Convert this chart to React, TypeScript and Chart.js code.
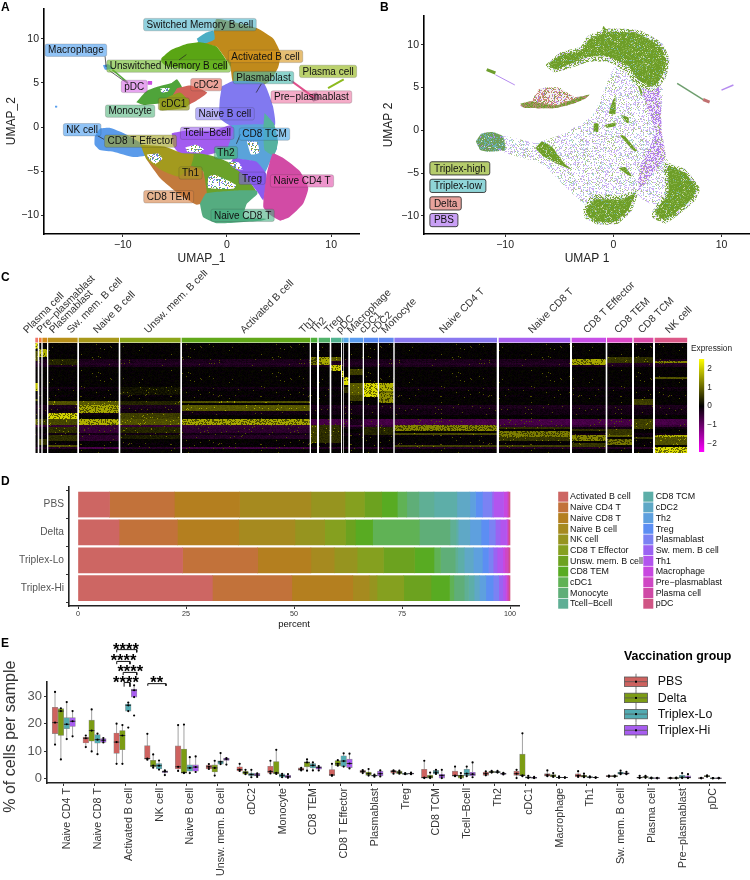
import React, { useEffect, useRef } from "react";
import { Chart, registerables } from "chart.js";
Chart.register(...registerables);

const FONT = '"Liberation Sans", Arial, sans-serif';
type Pt = [number, number];

/* ---------- Panel A ---------- */
const clusterA: { c: string; p: Pt[] }[] = [
  { c: "#C08A1B", p: [[-2.9,9.5],[-1.3,10.7],[-1.05,12.2],[0.6,11.9],[2.85,11.2],[4.45,10],[5.15,8.3],[4.9,6.7],[4.1,5.2],[2.85,4.4],[0.6,5],[0.3,6.9],[-1,9.1]] },
  { c: "#4BAEC4", p: [[-2.9,10],[-2,10.7],[-1.3,10.9],[-1.2,9.9],[-2.6,9.3]] },
  { c: "#5AA514", p: [[-6.3,7.8],[-5.4,8.7],[-3.9,9.4],[-2.6,9.6],[-1,9.1],[0,7.4],[0,6.5],[-3,6.5],[-5.8,6.9],[-6.3,7.4]] },
  { c: "#4FA43A", p: [[-8.7,2.8],[-7.7,4.1],[-6.6,4.6],[-5.3,5],[-4.8,5.4],[-4.3,4.4],[-5.4,3.2],[-6.4,2.7],[-8,2.5]] },
  { c: "#D0635A", p: [[-4.8,4.4],[-3.5,4.7],[-1.9,3.9],[-2.9,3],[-3.9,2.4],[-6.4,2],[-6.4,2.7],[-5.4,3.3]] },
  { c: "#8E9E1E", p: [[-6.4,3],[-4.5,3.9],[-3.6,2.8],[-3.9,2.2],[-6.4,1.9]] },
  { c: "#8179F0", p: [[-0.5,4.6],[0.6,5.2],[3.5,5],[4.4,2.4],[4.6,0.2],[2.5,0],[0.6,0],[-0.7,1],[-0.7,3]] },
  { c: "#5AA3DA", p: [[0.3,0.2],[4,0.2],[4.8,-2.4],[4.3,-3.5],[3.5,-5.4],[2.5,-3.9],[0.6,-3.5],[0,-2.4]] },
  { c: "#55B2A0", p: [[3.6,1.6],[4.5,0.4],[4.9,-1.7],[4.5,-3.2],[3.6,-2.6],[3.5,0]] },
  { c: "#A35CF0", p: [[-5.3,-0.7],[-3.9,-0.4],[-1.3,-0.4],[0.3,0.2],[0.6,-0.2],[0,-2.4],[-2,-3.2],[-4.5,-3.1],[-5.2,-2]] },
  { c: "#5B9BEA", p: [[-12.7,-1.1],[-12.2,-0.2],[-11.2,-0.1],[-9.9,-0.7],[-8.3,-1.8],[-7.4,-3.1],[-9,-3.4],[-10.9,-2.8],[-12.2,-2.6],[-12.7,-2]] },
  { c: "#6AA22A", p: [[-4.5,-3],[-2.6,-3],[-1,-3.4],[1.2,-4.6],[1.7,-5.4],[2.8,-7.4],[-2.3,-7.6],[-2.3,-5],[-3.6,-4.6]] },
  { c: "#C27A3C", p: [[-7.7,-3.7],[-6.1,-4.9],[-4.5,-5.3],[-3.5,-4.4],[-2.3,-5],[-1.9,-8.3],[-2.9,-8.8],[-4.5,-7.7],[-6.4,-5.8]] },
  { c: "#A39A1E", p: [[-8.3,-2],[-6,-2.2],[-4.2,-3],[-3.2,-3.1],[-3.5,-4.5],[-4.6,-5.6],[-6.1,-5],[-7.7,-3.7]] },
  { c: "#55AC80", p: [[-2.6,-8.7],[-2,-7.5],[0.6,-7.2],[2.9,-7.2],[2.9,-7.6],[1.9,-8.7],[1.6,-10.2],[3.8,-10.4],[3.2,-10.6],[-1,-10.9],[-2.3,-10.2]] },
  { c: "#8B5CF0", p: [[0.6,-3.5],[2.8,-3.9],[3.8,-5.4],[3.5,-8.3],[2.9,-7.3],[1.6,-5.4],[0.3,-4.3]] },
  { c: "#D24BA5", p: [[3.5,-8.3],[3.8,-5.4],[4.4,-3],[5.4,-3.5],[7,-5],[7.8,-6.9],[7.3,-8.7],[6,-10.2],[5.1,-10.6],[4.2,-10],[3.5,-9.1]] },
  { c: "#55AE90", p: [[-1.2,-2.4],[0.6,-2.4],[0.8,-3.6],[-0.8,-3.6]] },
  { c: "#7D8D95", p: [[7.8,3.6],[8.6,3.9],[9,3.2],[8.3,2.9]] },
  { c: "#5AA0EE", p: [[-11.9,7],[-11.4,7.1],[-10.9,6.6],[-11.7,6.5]] },
  { c: "#C94FE0", p: [[-7.6,5.2],[-7.2,5.2],[-7.2,4.8],[-7.6,4.8]] },
  { c: "#5AA0EE", p: [[-16.5,2.4],[-16.3,2.4],[-16.3,2.2],[-16.5,2.2]] },
];
const holesA: Pt[][] = [
  [[-7.7,-3.1],[-6.6,-3],[-6.2,-3.6],[-6.9,-4.2],[-7.5,-3.6]],
  [[-1.8,-5.6],[-1.2,-5.4],[0,-6],[0.9,-6.6],[0.6,-7],[-1.8,-6.9]],
  [[-4,-2.3],[-3,-2],[-2.2,-2.5],[-2.6,-2.9],[-3.8,-2.8]],
  [[1.9,-1.6],[2.9,-1.7],[3.1,-2.9],[2.3,-3.1]],
  [[0.1,-3.9],[1.1,-4],[1.5,-4.8],[0.6,-4.6]],
  [[-6.4,4.4],[-5.5,4.4],[-5.7,4],[-6.3,3.9]],
];
const strokesA: { c: string; w: number; p: Pt[] }[] = [
  { c: "#8DBA1E", w: 2, p: [[9.7,4.4],[11.2,5.4]] },
  { c: "#E0508C", w: 2, p: [[6.2,5.2],[8.4,3.3]] },
  { c: "#56A83B", w: 1.5, p: [[-11,6.5],[-9.5,5]] },
];
const labelNamesA = ["Switched Memory B cell","Macrophage","Unswitched Memory B cell","Activated B cell","Plasma cell","Plasmablast","cDC2","pDC","Pre\u2212plasmablast","cDC1","Monocyte","Naive B cell","NK cell","Tcell\u2212Bcell","CD8 TCM","CD8 T Effector","Th2","Th1","Treg","Naive CD4 T","CD8 TEM","Naive CD8 T"];
const labelXA = [-2.6,-14.5,-5.6,3.7,9.7,3.5,-2,-8.9,8.1,-5.1,-9.3,-0.2,-13.9,-1.9,3.6,-8.3,-0.1,-3.5,2.4,7.2,-5.6,1.5];
const labelYA = [11.6,8.7,6.9,8,6.3,5.6,4.8,4.6,3.4,2.6,1.8,1.5,-0.3,-0.7,-0.8,-1.6,-2.9,-5.2,-5.8,-6.1,-7.9,-10];
const labelColorsA = ["rgba(72,178,200,.6)","rgba(70,155,240,.6)","rgba(110,185,40,.62)","rgba(215,150,30,.62)","rgba(150,185,30,.65)","rgba(70,185,175,.62)","rgba(225,105,90,.62)","rgba(210,90,225,.55)","rgba(235,90,145,.5)","rgba(150,155,30,.7)","rgba(70,175,115,.55)","rgba(125,115,240,.55)","rgba(70,155,240,.6)","rgba(150,90,235,.55)","rgba(70,165,230,.6)","rgba(160,160,30,.6)","rgba(70,175,130,.6)","rgba(160,150,30,.6)","rgba(130,90,235,.6)","rgba(225,80,170,.6)","rgba(215,130,70,.6)","rgba(70,175,130,.6)"];
const connectorsA: Pt[][] = [
  [[-11.7,8],[-11.6,6.8]],
  [[-11.3,6.4],[-9.5,4.9]],
  [[-12.4,-1],[-11.8,-1.4]],
  [[-4.6,7.6],[-3.9,8.2]],
  [[3.3,4.9],[2.8,3.9]],
  [[1.3,-0.8],[0.9,-1.9]],
];
const xTicksA = [-10, 0, 10];
const yTicksUmap = [-10, -5, 0, 5, 10];

/* ---------- Panel B ---------- */
const sparseB: Pt[] = [[-7.2,-1.5],[-4.8,-0.5],[-2,1.6],[-1.1,3.9],[0.2,7.4],[4.5,5.9],[4.3,-0.3],[5.1,-3.9],[4.2,-8.9],[2.6,-8],[2,-7.4],[-2.3,-8.9],[-4.5,-6.5],[-6.6,-3.9],[-10.2,-2.5],[-10.2,-0.7]];
const bandB: Pt[] = [[2.6,5.9],[4.2,5.1],[4.5,-0.3],[4.8,-3.1],[3.2,-5.8],[2.3,-7],[2.5,-4.2],[3.9,-0.3],[2.9,3.5]];
const haloB: Pt[][] = [
  [[-6.3,7.6],[-4.9,9.1],[-3,9.8],[-2.4,11],[-0.5,11.9],[2.4,11.7],[4.5,10.2],[5.2,8.2],[4.8,6],[3.7,4.6],[2.2,5.2],[1,7],[-0.5,8],[-2.3,8],[-3.9,7.3],[-5.5,6.8]],
  [[3.6,-9.5],[4.8,-7],[4.7,-3.8],[6.7,-4.6],[8,-6.8],[7.5,-8.3],[5.9,-10],[4.8,-10.9],[3.6,-10.2]],
  [[-2.8,-9.3],[-2,-7.6],[0.8,-7.6],[2.3,-7],[1.7,-9.4],[0.3,-11],[-1.5,-11],[-2.6,-10.3]],
];
const denseB: Pt[][] = [
  [[-6,7.8],[-4.8,8.8],[-2.9,9.4],[-2.3,10.6],[-0.5,11.5],[2.3,11.3],[4.2,9.9],[4.9,8.2],[4.5,6.3],[3.6,5.1],[2.3,5.9],[1.4,7.5],[-0.5,8.6],[-2.3,8.6],[-3.9,7.8],[-5.4,7.1]],
  [[4.2,-8.9],[5.1,-7.4],[5.1,-4.2],[6.6,-5],[7.7,-6.8],[7.2,-8.1],[5.7,-9.7],[4.8,-10.5],[3.9,-9.7]],
  [[-2.5,-9.3],[-1.7,-8.1],[0.8,-8.1],[2,-7.4],[1.4,-9.3],[0.2,-10.7],[-1.4,-10.7],[-2.3,-10.1]],
  [[-7.2,-2.1],[-6.6,-1.3],[-5.7,-1.9],[-4.5,-3.9],[-3.8,-4.6],[-5.2,-3.9],[-6.5,-3]],
  [[-1,11.9],[-0.9,12.2],[-0.5,11.5],[-0.9,11.4]],
  [[-0.8,0.6],[0.2,0.9],[0.2,0.5],[-0.6,0.3]],
  [[0.8,1.8],[1.4,1.5],[1.4,0.8],[0.9,1.3]],
  [[0.2,3.9],[0.2,1.9],[-0.4,2],[0,3.6]],
  [[2.3,5.1],[2.6,4],[2.7,4.4],[2.4,5.2]],
  [[-1.8,0.8],[-1.4,0.8],[-1.4,-0.2],[-1.8,-0.1]],
  [[0.6,-0.6],[1,-0.6],[2.2,-2.4],[1.9,-2.4]],
  [[0.5,-4.4],[1.1,-4.3],[1.7,-5.4],[1.3,-5.2]],
];
const tealB: Pt[] = [[-12.7,-1.3],[-12.2,-0.4],[-11.2,-0.2],[-10.2,-0.7],[-10,-2.3],[-11.6,-2.5],[-12.3,-2.3]];
const redB: Pt[] = [[-7.6,3.3],[-7.2,4.2],[-6.8,4.9],[-5,5],[-3.6,3.9],[-2.2,4.1],[-3.5,3.2],[-5.3,2.6],[-8.3,2.6],[-8.6,3]];
const greenEdgeB: Pt[] = [[-8.6,3.1],[-7.6,3.4],[-5.3,2.9],[-3.6,3.7],[-2.2,4.2],[-2.6,3.7],[-3.8,3.1],[-5.3,2.6],[-8.2,2.6]];
const strokesB: { c: string; w: number; p: Pt[] }[] = [
  { c: "#6E9E2E", w: 3, p: [[-11.7,7.1],[-10.9,6.7]] },
  { c: "#B58BEF", w: 1, p: [[-10.9,6.5],[-9.1,5.3]] },
  { c: "#6E9E6E", w: 1.5, p: [[5.9,5.5],[8.3,3.6]] },
  { c: "#C07070", w: 3, p: [[8.3,3.6],[8.9,3.3]] },
  { c: "#B58BEF", w: 1.5, p: [[10,4.7],[11.1,5.3]] },
];
const legendNamesB = ["Triplex-high", "Triplex-low", "Delta", "PBS"];
const legendYB = [-4.45, -6.5, -8.55, -10.5];
const legendFillsB = ["#B5CC6C", "#8FD5D8", "#E8A29C", "#C9A0F5"];
const xTicksB = [-10, 0, 10];

/* ---------- Panel C ---------- */
const heatNames = ["Plasma cell","Pre\u2212plasmablast","Plasmablast","Sw. mem. B cell","Naive B cell","Unsw. mem. B cell","Activated B cell","Th1","Th2","Treg","pDC","Macrophage","cDC1","cDC2","Monocyte","Naive CD4 T","Naive CD8 T","CD8 T Effector","CD8 TEM","CD8 TCM","NK cell"];
const heatLabelX = [28,41.6,54,71.7,98,149,245,304,315,329,340.7,351.7,364,375,386,444,533,588,619,642.7,670];
const heatStart = [35.3,39.3,42.7,48.3,79,120.3,182,311,319,331.3,342,344,350,364,379,394.7,499,572,607.3,634,655];
const heatEnd = [37.7,41.3,47,77.3,118.7,180.3,309.7,317,329.7,341,343.3,348.3,362.7,377.7,393.3,496.7,570,605.7,632,653,687.3];
const heatStrip = ["#F0786C","#EA8040","#D28A1A","#B8901A","#A8981A","#8CA51A","#62A81A","#4FB03A","#52B26A","#52B490","#5CB4C8","#5AA8E8","#5A9CF0","#5A8CF4","#6088F0","#8A78F0","#A860F0","#C850E8","#DC48C8","#DC4CA8","#DC5888"];
const heatBase = [0,0,0,0,0,0,0,0,-.3,-.3,-.4,-.3,0,0,0,0,0,0,0,0,0,0,-.2,-.1,0,0,-.1,0,0,0,0,-.3,-.3,-.2,-.2,-.2,0,0,-.8,-.8,-.8,-.6,-.2,0,0,-.2,-.1,0,0,0,-.1,0,-.4,0,0];
const heatBands: [number, number, number][][] = [
  [[0,2,2.5],[4,8,.9],[20,23,2.2],[28,28,1],[38,40,1.1]],
  [[3,6,2],[48,50,.8],[38,40,.6]],
  [[3,6,2],[48,50,.5],[38,40,.5]],
  [[8,10,.4],[29,30,.9],[35,37,2.4],[38,40,.8],[42,44,.5],[46,48,.5],[51,51,.9]],
  [[29,30,1],[31,34,1.9],[38,40,2],[42,44,-.6],[46,48,-.5],[52,52,-.8]],
  [[29,30,.4],[35,37,.7],[38,40,.9],[42,44,.4],[46,47,.3],[22,25,.2]],
  [[29,29,.9],[31,33,1],[38,40,1.9],[42,44,-.5],[46,47,-.4],[52,52,-.7]],
  [[7,10,1.3],[38,40,-.8],[41,49,.7]],
  [[7,10,1.9],[41,49,.5]],
  [[7,8,1],[11,13,2.3],[41,49,.5]],
  [[14,16,2.5]],
  [[17,20,2.5],[22,24,.5]],
  [[13,15,.7],[20,25,1],[26,28,.7],[38,40,-.3]],
  [[20,26,2.5],[42,45,.4]],
  [[20,23,2],[24,24,1.2],[25,29,1.6],[42,45,.4]],
  [[41,43,1.5],[45,45,.8],[51,51,.7]],
  [[42,42,.5],[44,46,1.4],[47,48,.6],[51,51,.7]],
  [[8,10,1.9],[43,43,.5],[46,48,1.5],[50,51,.6]],
  [[7,9,.6],[43,45,.6],[46,46,1],[48,50,1.3]],
  [[7,9,.5],[28,30,.7],[38,42,.7],[47,47,.5]],
  [[9,9,1.5],[17,17,.9],[46,46,2],[47,50,.9],[52,54,2.5]],
];
const colorbarTicks = [-2, -1, 0, 1, 2];
const colorbarRange: [number, number] = [-2.47, 2.54];

/* ---------- Panel D ---------- */
const cellTypes = ["Activated B cell","Naive CD4 T","Naive CD8 T","Naive B cell","NK cell","CD8 T Effector","Unsw. mem. B cell","CD8 TEM","cDC1","Monocyte","Tcell\u2212Bcell","CD8 TCM","cDC2","Th2","Treg","Plasmablast","Sw. mem. B cell","Th1","Macrophage","Pre\u2212plasmablast","Plasma cell","pDC"];
const cellColors = ["#CD6663","#C2723A","#B47F1F","#A68A1F","#96941F","#85A01F","#6CA21F","#58AB22","#60B255","#5FAE78","#5FAF95","#5DAEA8","#5FA8C6","#5EA0DE","#5C8EF3","#7B82F3","#9B63F2","#B255EE","#C848E0","#CF47C4","#CF49A6","#D05585"];
const compGroups = ["PBS", "Delta", "Triplex-Lo", "Triplex-Hi"];
const compPBS = [7.3,15,15.1,16.5,7.9,4.5,4,3.6,2.2,2.8,3.5,5.3,3,1.3,1.6,2.2,.4,2.3,.8,.2,.2,.3];
const compDelta = [9.5,13.5,14.2,13,6.9,4.8,2.3,4,10.8,7.1,1.4,.5,2.7,2.6,1.8,1.5,1.1,1.5,.2,.1,.2,.3];
const compLo = [24.2,17.4,12.3,5.4,5.3,6.1,7.2,4.5,1.5,3.4,.6,1.5,2.1,2.1,1.4,1.1,.9,1.3,.5,.6,.3,.3];
const compHi = [31.1,18.4,14.1,3.8,1.8,6.2,6.3,4.3,1,2.4,1,1.3,1.2,1.5,1.7,1.3,.9,.6,.3,.3,.2,.3];
const percentTicks = [0, 25, 50, 75, 100];

/* ---------- Panel E ---------- */
const boxCats = ["Naive CD4 T","Naive CD8 T","Activated B cell","NK cell","Naive B cell","Unsw. mem. B cell","cDC2","Monocyte","CD8 TEM","CD8 T Effector","Plasmablast","Treg","CD8 TCM","Tcell\u2212Bcell","Th2","cDC1","Macrophage","Th1","Sw. mem. B cell","Plasma cell","Pre\u2212plasmablast","pDC"];
const groupNames = ["PBS", "Delta", "Triplex-Lo", "Triplex-Hi"];
const groupColors = ["#CE625F", "#7C9C14", "#52ABB2", "#A85DF0"];
const q1PBS = [16.4,13,9.2,7.1,3.5,3.5,2.8,2,3,1.2,2.2,2,.2,.9,1.2,1.2,.9,.6,.7,.2,.1,.1];
const medPBS = [20.4,14.7,13.3,7.3,4.3,4.3,3.3,2.6,3.4,1.3,2.6,2.6,.4,1.1,1.8,1.8,1.3,1.1,.9,.4,.2,.2];
const q3PBS = [26,15.1,16.6,12,11.9,4.9,4.3,4.5,3.9,3.3,3,3,3.4,2.7,2.4,2.7,1.8,1.7,1.1,.6,.3,.3];
const loPBS = [12.4,11.5,5.4,6.9,2.8,3.5,2.8,1.9,3,1,2,1.8,.2,.9,1.2,.2,.9,.6,.7,.2,.1,.1];
const hiPBS = [31.6,15.7,20,16.3,19.5,5.3,5.4,6.5,3.9,5.4,3.1,3,6.5,4.4,2.6,3.2,3,2.7,1.1,1,.3,.3];
const q1Delta = [15.7,13.6,10.5,4.3,2,2.4,1.6,1.7,4.3,4.7,1.2,1.8,.2,.2,2.2,1.1,.6,.5,.7,.4,.1,.7];
const medDelta = [24.6,17.5,15.7,4.7,2.2,3.9,2.2,2.1,5.9,5.4,1.8,2.3,.6,1,2.4,1.2,1,.9,.9,.6,.2,.9];
const q3Delta = [25.5,21.3,17.5,6.7,10.8,5,2.7,6.2,6.1,6.6,2.4,2.7,1.2,1.3,2.7,8.9,1.5,1.2,1.1,.7,.3,1.1];
const loDelta = [7,9.9,5.4,4,2,1.1,1.6,1.7,2.9,4.7,1.1,1.8,.2,.2,2.2,.9,.6,.5,.7,.3,.1,.7];
const hiDelta = [25.6,25.2,19.5,8.8,19.7,6.5,3.2,10.5,7,6.7,3.5,2.9,2.2,2,2.8,16.5,2,1.8,1.1,1,.4,1.2];
const q1Lo = [18.2,12.9,24.6,3.5,2.7,5.3,1,.5,3.9,4.4,.9,1.6,1.7,1.1,2.2,.2,.3,.4,1.6,.1,.2,.1];
const medLo = [19.8,14.2,26.7,4.7,3.9,6.1,1.5,1.1,4.8,6.4,1.1,1.7,2.3,1.8,2.4,.4,.4,.5,2,.2,.5,.15];
const q3Lo = [22.2,16,27.2,5.5,5,6.5,2,1.7,5.5,8.3,1.3,1.9,3,3.4,2.6,.7,.6,.7,2.4,.3,1.2,.2];
const loLo = [14.4,8.9,24.6,3.3,2,5.3,.5,.5,3,4.4,.7,1.6,1.7,.9,2.2,.2,.3,.4,1.6,.1,.2,.1];
const hiLo = [27.9,16.4,27.7,6.6,7.8,9.3,3.2,1.7,5.9,9.2,1.5,2,3.2,4.4,2.8,1,.8,.8,2.9,.4,2,.2];
const q1Hi = [19,13.2,29.7,2.2,2.7,6.6,1,.3,3.4,4,1,1.7,.2,1,1.5,.2,.3,.3,1.6,.1,.2,.1];
const medHi = [20.9,14,32.2,2.6,4.2,7.1,1.3,.7,4,5.5,1.8,1.8,1.1,1.6,1.8,.3,.4,.4,1.9,.2,.4,.15];
const q3Hi = [22.2,14.6,32.6,2.8,5,7.5,1.9,1.2,4.4,7.1,2.7,2,1.6,2.3,2,.5,.5,.5,2.1,.3,1,.2];
const loHi = [15.4,13.2,29.7,1.3,2.4,5.1,.6,.3,3,3.7,.8,1.6,.2,.5,1.5,.2,.3,.3,1.6,.1,.2,.1];
const hiHi = [24.6,14.8,34,3,8.1,7.5,1.9,1.6,4.6,9.1,3,2.2,3.2,5.9,2.1,.6,.5,.5,2.5,.3,1.6,.3];
const outlierX = [2.095, 2.285];
const outlierY = [18.6, 23];
const bracketStarts = [1.72, 1.72, 1.93, 1.96, 2.73];
const bracketEnds = [2.37, 2.15, 2.37, 2.15, 3.32];
const bracketTops = [47, 42.7, 38.7, 35, 34.6];
const bracketTips = [46, 41.7, 37.7, 33.5, 33.8];
const starTexts = ["****", "****", "****", "****", "**"];
const starX = [2.02, 1.94, 2.16, 2.02, 3.02];
const starY = [48.2, 44.1, 40.2, 36.4, 36.4];
const boxTicksY = [0, 10, 20, 30];

/* ---------- helpers ---------- */
function lcg(seed: number) {
  let s = seed >>> 0;
  return () => { s = (Math.imul(s, 1664525) + 1013904223) >>> 0; return s / 4294967296; };
}
function speckle(base: string | null, dots: [string, number][], seed = 7, size = 60) {
  const c = document.createElement("canvas");
  c.width = size; c.height = size;
  const g = c.getContext("2d")!;
  if (base) { g.fillStyle = base; g.fillRect(0, 0, size, size); }
  const r = lcg(seed);
  for (let y = 0; y < size; y++) for (let x = 0; x < size; x++) {
    const v = r(); let acc = 0;
    for (const [col, d] of dots) {
      acc += d;
      if (v < acc) { g.fillStyle = col; g.fillRect(x, y, 1, 1); break; }
    }
  }
  return document.createElement("canvas").getContext("2d")!.createPattern(c, "repeat")!;
}
function exprColor(v: number) {
  const t = Math.min(1, Math.abs(v) / 2.5);
  const k = Math.round(255 * t);
  return v >= 0 ? `rgb(${k},${k},0)` : `rgb(${k},0,${k})`;
}
const heatTiles = new Map<number, CanvasPattern>();
function heatTile(v: number) {
  const key = Math.round(v * 10);
  if (heatTiles.has(key)) return heatTiles.get(key)!;
  const W = 90, H = 16;
  const c = document.createElement("canvas");
  c.width = W; c.height = H;
  const g = c.getContext("2d")!;
  const r = lcg(key * 131 + 977);
  const spike = 0.012 + 0.02 * Math.abs(v);
  for (let y = 0; y < H; y++) for (let x = 0; x < W; x++) {
    let val = v * 0.85 + (r() - 0.5) * 0.2;
    const q = r();
    if (v > 1 && q < 0.3) val = v * 0.4;
    else if (q < spike && v < 1.5) val = Math.max(val, 0) + 0.8;
    g.fillStyle = exprColor(val);
    g.fillRect(x, y, 1, 1);
  }
  const p = document.createElement("canvas").getContext("2d")!.createPattern(c, "repeat")!;
  heatTiles.set(key, p);
  return p;
}
type TextItem = { t: string; x: number; y: number; font: string; color?: string; align?: CanvasTextAlign; rot?: number };
const textLayer = (items: TextItem[]) => ({
  id: "textLayer",
  afterDraw(chart: any) {
    const ctx = chart.ctx;
    for (const it of items) {
      ctx.save();
      ctx.font = it.font; ctx.fillStyle = it.color || "#000";
      ctx.textAlign = it.align || "left"; ctx.textBaseline = "middle";
      ctx.translate(it.x, it.y);
      if (it.rot) ctx.rotate(it.rot);
      ctx.fillText(it.t, 0, 0);
      ctx.restore();
    }
  },
});
const umapLabels = (names: string[], xs: number[], ys: number[], fills: string[], opts: any = {}) => ({
  id: "umapLabels",
  afterDraw(chart: any) {
    const ctx = chart.ctx;
    const { x: sx, y: sy } = chart.scales;
    ctx.save();
    ctx.font = `${opts.size || 10}px ${FONT}`;
    ctx.textBaseline = "middle";
    names.forEach((n, i) => {
      const w = ctx.measureText(n).width + (opts.pad || 6);
      const h = opts.h || 12.4;
      const px = opts.left !== undefined ? sx.getPixelForValue(opts.left) : sx.getPixelForValue(xs[i]) - w / 2;
      const py = sy.getPixelForValue(ys[i]) - h / 2;
      ctx.beginPath();
      ctx.roundRect(px, py, w, h, 2);
      ctx.fillStyle = fills[i]; ctx.fill();
      ctx.lineWidth = opts.lw || 0.6; ctx.strokeStyle = opts.stroke || "rgba(60,60,60,.35)"; ctx.stroke();
      ctx.fillStyle = "#111"; ctx.textAlign = "left";
      ctx.fillText(n, px + (opts.pad || 6) / 2, py + h / 2 + 0.5);
    });
    ctx.restore();
  },
});
const gridLegend = () => ({
  id: "gridLegend",
  afterDraw(chart: any) {
    const ctx = chart.ctx;
    ctx.save();
    ctx.font = `8.9px ${FONT}`; ctx.textBaseline = "middle"; ctx.textAlign = "left";
    cellTypes.forEach((n, i) => {
      const col = i < 11 ? 0 : 1;
      const row = i < 11 ? i : i - 11;
      const sx = col ? 643.3 : 558.2;
      const sy = 496.7 - 470 + row * 10.7;
      ctx.fillStyle = cellColors[i];
      ctx.fillRect(sx, sy - 5, 10, 10);
      ctx.fillStyle = "#111";
      ctx.fillText(n, sx + (col ? 12.4 : 11.8), sy + 0.3);
    });
    ctx.restore();
  },
});
const boxLegend = () => ({
  id: "boxLegend",
  afterDraw(chart: any) {
    const ctx = chart.ctx;
    ctx.save();
    ctx.textBaseline = "middle"; ctx.textAlign = "left";
    ctx.font = `bold 12.4px ${FONT}`; ctx.fillStyle = "#000";
    ctx.fillText("Vaccination group", 624, 27);
    ctx.font = `12.4px ${FONT}`;
    groupNames.forEach((n, i) => {
      const cy = 51.7 + i * 16.2;
      ctx.strokeStyle = "#555"; ctx.lineWidth = 0.8;
      ctx.beginPath(); ctx.moveTo(636, cy - 8); ctx.lineTo(636, cy + 8); ctx.stroke();
      ctx.fillStyle = groupColors[i];
      ctx.fillRect(624.5, cy - 4.7, 23, 9.4);
      ctx.strokeRect(624.5, cy - 4.7, 23, 9.4);
      ctx.beginPath(); ctx.moveTo(624.5, cy); ctx.lineTo(647.5, cy); ctx.stroke();
      ctx.fillStyle = "#000"; ctx.fillRect(635, cy - 1, 2, 2);
      ctx.fillStyle = "#111"; ctx.fillText(n, 657.7, cy + 0.3);
    });
    ctx.restore();
  },
});
const minus = (v: number) => String(v).replace("-", "\u2212");
const poly = (p: Pt[], color: any, extra: any = {}) => ({
  data: [...p, p[0]].map(([x, y]) => ({ x, y })),
  backgroundColor: color, borderWidth: 0, pointRadius: 0, fill: "shape", tension: 0.15, capBezierPoints: false, showLine: true, ...extra,
});
const stroke = (p: Pt[], color: string, w: number) => ({
  data: p.map(([x, y]) => ({ x, y })), borderColor: color, borderWidth: w, pointRadius: 0, fill: false, tension: 0, showLine: true,
});
const segments = (list: Pt[][]) => {
  const out: any[] = [];
  list.forEach((s) => { s.forEach(([x, y]) => out.push({ x, y })); out.push({ x: s[0][0], y: null }); });
  return out;
};
const axisLine = { display: true, color: "#000", width: 1.6 };
const tickGrid = { display: true, drawOnChartArea: false, drawTicks: true, tickLength: 3, tickColor: "#333", tickWidth: 1 };
const fixedTicks = (vals: number[]) => (s: any) => { s.ticks = vals.map((value) => ({ value })); };

function umapOptions(xr: number[], yr: number[], xt: number[], xTitle: string, yTitle: string, left: number, pad: any, bottom: number, yPad: number): any {
  return {
    responsive: false, animation: false, devicePixelRatio: 1, events: [],
    layout: { padding: pad },
    plugins: { legend: { display: false }, tooltip: { enabled: false } },
    elements: { line: { borderJoinStyle: "round" } },
    scales: {
      x: {
        type: "linear", min: xr[0], max: xr[1], afterBuildTicks: fixedTicks(xt), afterFit: (s: any) => { s.height = bottom; },
        border: axisLine, grid: tickGrid,
        ticks: { color: "#222", font: { family: FONT, size: 10.5 }, padding: 2, maxRotation: 0, autoSkip: false, callback: (v: number) => minus(v) },
        title: { display: true, text: xTitle, color: "#222", font: { family: FONT, size: 12 }, padding: { top: 0, bottom: 4.5 } },
      },
      y: {
        type: "linear", min: yr[0], max: yr[1], afterBuildTicks: fixedTicks(yTicksUmap), afterFit: (s: any) => { s.width = left; },
        border: axisLine, grid: tickGrid,
        ticks: { color: "#222", font: { family: FONT, size: 10.5 }, padding: 2, autoSkip: false, callback: (v: number) => minus(v) },
        title: { display: true, text: yTitle, color: "#222", font: { family: FONT, size: 12 }, padding: { top: yPad, bottom: 0 } },
      },
    },
  };
}

export default function App() {
  const refA = useRef<HTMLCanvasElement>(null);
  const refB = useRef<HTMLCanvasElement>(null);
  const refC = useRef<HTMLCanvasElement>(null);
  const refBar = useRef<HTMLCanvasElement>(null);
  const refD = useRef<HTMLCanvasElement>(null);
  const refE = useRef<HTMLCanvasElement>(null);

  useEffect(() => {
    const charts: Chart[] = [];

    /* A */
    const whiteSpeck = speckle("#FFFFFF", [["#7B7AF3", 0.14], ["#55AC80", 0.14], ["#A39A1E", 0.08]], 11);
    const backA = [
      ...clusterA.map((o) => poly(o.p, o.c)),
      ...holesA.map((h) => poly(h, whiteSpeck)),
      ...strokesA.map((s) => stroke(s.p, s.c, s.w)),
      { data: segments(connectorsA), borderColor: "#222", borderWidth: 0.7, pointRadius: 0, fill: false, tension: 0, spanGaps: false },
    ];
    charts.push(new Chart(refA.current!, {
      type: "line",
      data: { datasets: backA.slice().reverse() as any },
      options: umapOptions([(44 - 227) / 10.42, (359 - 227) / 10.42], [(125 - 234) / 9, (125 - 4) / 9], xTicksA, "UMAP_1", "UMAP_2", 44, { top: 4, right: 16 }, 36, 4),
      plugins: [umapLabels(labelNamesA, labelXA, labelYA, labelColorsA), textLayer([{ t: "A", x: 1, y: 8, font: `bold 12px ${FONT}` }])] as any,
    }));

    /* B */
    const sparse = speckle("#FFFFFF", [["#CDB3F4", 0.2], ["#ABC886", 0.09], ["#A9D8DB", 0.06]], 21);
    const band = speckle("#F3EAFD", [["#B283EC", 0.38], ["#A5C07A", 0.1], ["#DDAAAA", 0.05]], 22);
    const halo = speckle("#F4F7EE", [["#7FA840", 0.42], ["#C9B3F0", 0.1], ["#A9D8DB", 0.06]], 27);
    const dense = speckle("#6E9E28", [["#86B04A", 0.18], ["#C9D6AA", 0.04], ["#7DB8A8", 0.04]], 23);
    const teal = speckle("#6E9E58", [["#6BB0B0", 0.28], ["#B58BEF", 0.06], ["#D8E8D8", 0.06]], 24);
    const red = speckle("#F3F0EE", [["#D08A80", 0.36], ["#7FA53C", 0.1], ["#B58BEF", 0.08]], 25);
    const greenish = speckle("#8C9A50", [["#6E9E28", 0.3], ["#C08078", 0.2]], 26);
    const backB = [
      poly(sparseB, sparse),
      poly(bandB, band),
      ...haloB.map((h) => poly(h, halo)),
      poly(redB, red),
      poly(greenEdgeB, greenish),
      poly(tealB, teal),
      ...denseB.map((d) => poly(d, dense)),
      ...strokesB.map((s) => stroke(s.p, s.c, s.w)),
    ];
    charts.push(new Chart(refB.current!, {
      type: "line",
      data: { datasets: backB.slice().reverse() as any },
      options: umapOptions([(49 - 238.3) / 10.82, (375 - 238.3) / 10.82], [(130.3 - 234) / 8.55, (130.3 - 16) / 8.55], xTicksB, "UMAP 1", "UMAP 2", 49, { top: 16, right: 0 }, 36, 6),
      plugins: [umapLabels(legendNamesB, [0, 0, 0, 0], legendYB, legendFillsB, { left: -16.95, pad: 8, h: 13.2, lw: 0.9, stroke: "#333" }), textLayer([{ t: "B", x: 5, y: 8, font: `bold 12px ${FONT}` }])] as any,
    }));

    /* C */
    const heatSets: any[] = heatNames.map((_, ci) => {
      const vals = heatBase.slice();
      heatBands[ci].forEach(([a, b, v]) => { for (let r = a; r <= b; r++) vals[r] = v; });
      return {
        data: vals.map((_v, r) => ({ y: r + 0.5, x: [heatStart[ci], heatEnd[ci]] })),
        backgroundColor: vals.map((v) => heatTile(v)),
        barThickness: 2, grouped: false, inflateAmount: 0, borderWidth: 0,
      };
    });
    const stripSet: any = {
      data: heatNames.map((_, i) => ({ y: -1.4, x: [heatStart[i], heatEnd[i]] })),
      backgroundColor: heatStrip, barThickness: 4, grouped: false, borderWidth: 0,
    };
    charts.push(new Chart(refC.current!, {
      type: "bar",
      data: { datasets: [stripSet, ...heatSets] },
      options: {
        indexAxis: "y", responsive: false, animation: false, devicePixelRatio: 1, events: [],
        layout: { padding: { right: 750 - 687.3, bottom: 17, left: 35.3 } },
        plugins: { legend: { display: false }, tooltip: { enabled: false } },
        scales: {
          x: {
            type: "linear", position: "top", min: 35.3, max: 687.3, offset: false,
            afterBuildTicks: fixedTicks(heatLabelX),
            afterFit: (s: any) => { s.height = 67; },
            border: { display: false }, grid: { display: false, drawTicks: false },
            ticks: { autoSkip: false, minRotation: 45, maxRotation: 45, padding: 1, labelOffset: 6, color: "#333", font: { family: FONT, size: 10.3 }, callback: (_v: number, i: number) => heatNames[i] },
          },
          y: { type: "linear", reverse: true, min: -3, max: 55, display: false, offset: false, afterFit: (s: any) => { s.width = 0; } },
        },
      } as any,
      plugins: [textLayer([{ t: "C", x: 1, y: 8, font: `bold 12px ${FONT}` }])] as any,
    }));

    /* colourbar */
    charts.push(new Chart(refBar.current!, {
      type: "bar",
      data: {
        labels: ["Expression"],
        datasets: [{
          data: [colorbarRange],
          borderWidth: 0, categoryPercentage: 1, barPercentage: 1,
          backgroundColor: (c: any) => {
            const a = c.chart.chartArea;
            if (!a) return "#000";
            const g = c.chart.ctx.createLinearGradient(0, a.bottom, 0, a.top);
            g.addColorStop(0, "#FF00FF"); g.addColorStop(0.493, "#000000"); g.addColorStop(1, "#FFFF00");
            return g;
          },
        }] as any,
      },
      options: {
        responsive: false, animation: false, devicePixelRatio: 1, events: [],
        layout: { padding: { top: 19, bottom: 7, left: 19 } },
        plugins: { legend: { display: false }, tooltip: { enabled: false } },
        scales: {
          x: { display: false },
          y: {
            position: "right", min: colorbarRange[0], max: colorbarRange[1], afterBuildTicks: fixedTicks(colorbarTicks),
            afterFit: (s: any) => { s.width = 70 - 24.3 - 0; },
            border: { display: false }, grid: { display: false, drawTicks: false },
            ticks: { autoSkip: false, padding: 3, color: "#222", font: { family: FONT, size: 8.3 }, callback: (v: number) => minus(v) },
          },
        },
      } as any,
      plugins: [textLayer([{ t: "Expression", x: 11, y: 8.7, font: `8.3px ${FONT}`, color: "#222" }])] as any,
    }));

    /* D */
    const compTable = [compPBS, compDelta, compLo, compHi];
    charts.push(new Chart(refD.current!, {
      type: "bar",
      data: {
        datasets: cellTypes.map((n, i) => ({
          label: n,
          data: compTable.map((row, g) => ({ y: g, x: row[i] })),
          backgroundColor: cellColors[i], borderWidth: 0, barThickness: 25,
        })) as any,
      },
      options: {
        indexAxis: "y", responsive: false, animation: false, devicePixelRatio: 1, events: [],
        layout: { padding: { top: 17, right: 231 } },
        plugins: { legend: { display: false }, tooltip: { enabled: false } },
        scales: {
          x: {
            type: "linear", stacked: true, min: (69 - 78) / 4.32, max: (519 - 78) / 4.32, offset: false,
            afterBuildTicks: fixedTicks(percentTicks), afterFit: (s: any) => { s.height = 24; },
            border: { display: true, color: "#222", width: 1.6 }, grid: tickGrid,
            ticks: { autoSkip: false, maxRotation: 0, padding: 1, color: "#333", font: { family: FONT, size: 7.2 } },
            title: { display: true, text: "percent", color: "#111", font: { family: FONT, size: 9.5 }, padding: { top: 0, bottom: 0 } },
          },
          y: {
            type: "linear", stacked: true, reverse: true, min: -0.63, max: 3.64, offset: false,
            afterBuildTicks: fixedTicks([0, 1, 2, 3]), afterFit: (s: any) => { s.width = 69; },
            border: { display: true, color: "#222", width: 1.6 }, grid: tickGrid,
            ticks: { autoSkip: false, padding: 2, color: "#555", font: { family: FONT, size: 10.2 }, callback: (_v: number, i: number) => compGroups[i] },
          },
        },
      } as any,
      plugins: [gridLegend(), textLayer([{ t: "D", x: 1, y: 11.5, font: `bold 12px ${FONT}` }])] as any,
    }));

    /* E */
    const offs = [-0.285, -0.095, 0.095, 0.285];
    const stats = [
      [q1PBS, medPBS, q3PBS, loPBS, hiPBS],
      [q1Delta, medDelta, q3Delta, loDelta, hiDelta],
      [q1Lo, medLo, q3Lo, loLo, hiLo],
      [q1Hi, medHi, q3Hi, loHi, hiHi],
    ];
    const whiskers: Pt[][] = [];
    const medians: Pt[][] = [];
    const dots: any[] = [];
    stats.forEach(([q1, med, q3, lo, hi], g) => {
      boxCats.forEach((_, i) => {
        const x = i + offs[g];
        whiskers.push([[x, lo[i]], [x, hi[i]]]);
        medians.push([[x - 0.09, med[i]], [x + 0.09, med[i]]]);
        dots.push({ x, y: lo[i] }, { x, y: med[i] }, { x, y: hi[i] });
      });
    });
    outlierX.forEach((x, i) => dots.push({ x, y: outlierY[i] }));
    const brackets: Pt[][] = bracketStarts.map((s, i) => [[s, bracketTips[i]], [s, bracketTops[i]], [bracketEnds[i], bracketTops[i]], [bracketEnds[i], bracketTips[i]]]);
    charts.push(new Chart(refE.current!, {
      type: "bar",
      data: {
        datasets: [
          { type: "line", data: dots, showLine: false, pointRadius: 1.1, pointBackgroundColor: "#000", pointBorderWidth: 0, order: 0 },
          { type: "line", data: segments(medians), borderColor: "#222", borderWidth: 0.9, pointRadius: 0, fill: false, tension: 0, order: 1 },
          ...stats.map(([q1, , q3], g) => ({
            type: "bar", data: boxCats.map((_, i) => ({ x: i + offs[g], y: [q1[i], q3[i]] })),
            backgroundColor: groupColors[g], borderColor: "rgba(120,120,120,.8)", borderWidth: 0.6, borderSkipped: false,
            barThickness: 5.6, grouped: false, order: 2,
          })),
          { type: "line", data: segments(whiskers), borderColor: "#8a8a8a", borderWidth: 0.8, pointRadius: 0, fill: false, tension: 0, order: 3 },
          { type: "line", data: segments(brackets), borderColor: "#111", borderWidth: 1, pointRadius: 0, fill: false, tension: 0, clip: false, order: 4 },
        ] as any,
      },
      options: {
        responsive: false, animation: false, devicePixelRatio: 1, events: [],
        layout: { padding: { top: 52, right: 25 } },
        plugins: { legend: { display: false }, tooltip: { enabled: false } },
        scales: {
          x: {
            type: "linear", min: (47 - 63.8) / 30.77, max: (725 - 63.8) / 30.77, offset: false,
            afterBuildTicks: fixedTicks(boxCats.map((_, i) => i)), afterFit: (s: any) => { s.height = 97; },
            border: { display: true, color: "#222", width: 1.6 }, grid: { ...tickGrid, offset: false },
            ticks: { autoSkip: false, minRotation: 90, maxRotation: 90, padding: 2, labelOffset: 3.5, color: "#333", font: { family: FONT, size: 10.7 }, callback: (_v: number, i: number) => boxCats[i] },
          },
          y: {
            type: "linear", min: -1.6, max: 35.2, afterBuildTicks: fixedTicks(boxTicksY), afterFit: (s: any) => { s.width = 47; },
            border: { display: true, color: "#222", width: 1.6 }, grid: tickGrid,
            ticks: { autoSkip: false, padding: 2, color: "#555", font: { family: FONT, size: 13 } },
          },
        },
      } as any,
      plugins: [
        boxLegend(),
        textLayer([
          { t: "E", x: 1, y: 13.5, font: `bold 12px ${FONT}` },
          { t: "% of cells per sample", x: 11, y: 106.7, font: `16px ${FONT}`, color: "#333", align: "center", rot: -Math.PI / 2 },
        ]),
        {
          id: "stars",
          afterDraw(chart: any) {
            const ctx = chart.ctx;
            ctx.save();
            ctx.font = `bold 16.5px ${FONT}`; ctx.textAlign = "center"; ctx.textBaseline = "top"; ctx.fillStyle = "#000";
            starTexts.forEach((t, i) => ctx.fillText(t, chart.scales.x.getPixelForValue(starX[i]), chart.scales.y.getPixelForValue(starY[i]) - 4));
            ctx.restore();
          },
        },
      ] as any,
    }));

    return () => charts.forEach((c) => c.destroy());
  }, []);

  const abs = (left: number, top: number, width: number, height: number): React.CSSProperties => ({ position: "absolute", left, top, width, height, display: "block", filter: "blur(0.35px)" });
  return (
    <div style={{ position: "absolute", left: 0, top: 0, width: 750, height: 880, overflow: "hidden", background: "#fff" }}>
      <canvas ref={refA} width={375} height={270} style={abs(0, 0, 375, 270)} />
      <canvas ref={refB} width={375} height={270} style={abs(375, 0, 375, 270)} />
      <canvas ref={refC} width={750} height={200} style={abs(0, 270, 750, 200)} />
      <canvas ref={refBar} width={70} height={120} style={abs(680, 340, 70, 120)} />
      <canvas ref={refD} width={750} height={160} style={abs(0, 470, 750, 160)} />
      <canvas ref={refE} width={750} height={250} style={abs(0, 630, 750, 250)} />
    </div>
  );
}
